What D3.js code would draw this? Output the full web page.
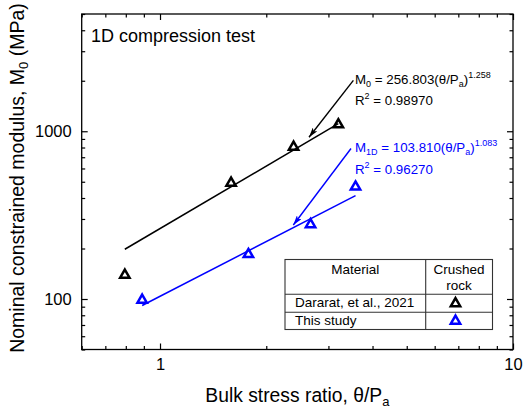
<!DOCTYPE html>
<html>
<head>
<meta charset="utf-8">
<script src="https://cdn.jsdelivr.net/npm/d3@7"></script>
<style>
html,body{margin:0;padding:0;background:#fff;}
svg{display:block;font-family:"Liberation Sans",Arial,sans-serif;}
</style>
</head>
<body>
<svg id="chart" width="524" height="412"></svg>
<script>
// ---- data ----
const dararatX = [0.795, 1.59, 2.39, 3.20];
const dararatY = [139, 492, 806, 1096];
const studyX = [0.89, 1.78, 2.67, 3.58];
const studyY = [98.6, 184.5, 278, 466];
const fitBlackX = [0.795, 3.20];
const fitBlackY = [198, 1109];
const fitBlueX = [0.89, 3.58];
const fitBlueY = [91.5, 413];
const xMajorTicks = [1, 10];
const xMajorLabels = ["1", "10"];
const xMinorTicks = [0.6, 0.7, 0.8, 0.9, 2, 3, 4, 5, 6, 7, 8, 9];
const yMajorTicks = [100, 1000];
const yMajorLabels = ["100", "1000"];
const yMinorTicks = [50, 60, 70, 80, 90, 200, 300, 400, 500, 600, 700, 800, 900, 2000, 3000, 4000, 5000];
const xDomain = [0.6, 10];
const yDomain = [50, 5000];
const blackArrow = {x1: 3.53, y1: 2012, x2: 2.643, y2: 921};
const blueArrow = {x1: 3.476, y1: 789, x2: 2.386, y2: 276};
const legendRows = ["Dararat, et al., 2021", "This study"];

// ---- layout ----
const L = 81.7, R = 513, T = 14, B = 349.5;
const BLUE = "#0000ff";
const svg = d3.select("#chart");
const x = d3.scaleLog().domain(xDomain).range([L, R]);
const y = d3.scaleLog().domain(yDomain).range([B, T]);

svg.append("defs").selectAll("marker").data([["ah-black","#000"],["ah-blue",BLUE]]).join("marker")
  .attr("id", d => d[0]).attr("viewBox", "0 0 10 6").attr("refX", 10).attr("refY", 3)
  .attr("markerWidth", 10).attr("markerHeight", 6).attr("markerUnits", "userSpaceOnUse")
  .attr("orient", "auto")
  .append("path").attr("d", "M0,0 L10,3 L0,6 L2.5,3 Z").attr("fill", d => d[1]);

function drawAxis(gen, transform, ticks, size, labels) {
  const g = svg.append("g").attr("transform", transform)
    .call(gen.tickValues(ticks).tickSizeInner(size).tickSizeOuter(0)
      .tickFormat((d, i) => labels ? labels[i] : ""));
  g.select(".domain").remove();
  g.selectAll(".tick line").attr("stroke", "#000").attr("stroke-width", 1.2);
  g.selectAll(".tick text").attr("font-size", 16.5).attr("fill", "#000")
    .attr("font-family", "'Liberation Sans',Arial,sans-serif");
  return g;
}
// bottom
const gb = drawAxis(d3.axisBottom(x), `translate(0,${B})`, xMajorTicks, -6, xMajorLabels);
gb.selectAll(".tick text").attr("y", 9).attr("dy", "0.71em");
drawAxis(d3.axisBottom(x), `translate(0,${B})`, xMinorTicks, -3.5, null);
// top
drawAxis(d3.axisTop(x), `translate(0,${T})`, xMajorTicks, -6, null);
drawAxis(d3.axisTop(x), `translate(0,${T})`, xMinorTicks, -3.5, null);
// left
const gl = drawAxis(d3.axisLeft(y), `translate(${L},0)`, yMajorTicks, -6, yMajorLabels);
gl.selectAll(".tick text").attr("x", -10);
drawAxis(d3.axisLeft(y), `translate(${L},0)`, yMinorTicks, -3.5, null);
// right
drawAxis(d3.axisRight(y), `translate(${R},0)`, yMajorTicks, -6, null);
drawAxis(d3.axisRight(y), `translate(${R},0)`, yMinorTicks, -3.5, null);

// frame
svg.append("rect").attr("x", L).attr("y", T).attr("width", R - L).attr("height", B - T)
  .attr("fill", "none").attr("stroke", "#000").attr("stroke-width", 1.3);

// fit lines
const line = d3.line().x(d => x(d[0])).y(d => y(d[1]));
svg.append("path").datum(d3.zip(fitBlackX, fitBlackY)).attr("d", line)
  .attr("stroke", "#000").attr("stroke-width", 1.5).attr("fill", "none");
svg.append("path").datum(d3.zip(fitBlueX, fitBlueY)).attr("d", line)
  .attr("stroke", BLUE).attr("stroke-width", 1.5).attr("fill", "none");

// triangles
const tri = d3.symbol().type(d3.symbolTriangle).size(38);
function drawTri(xs, ys, color) {
  svg.append("g").selectAll("path").data(d3.zip(xs, ys)).join("path")
    .attr("transform", d => `translate(${x(d[0])},${y(d[1])})`)
    .attr("d", tri).attr("fill", "none").attr("stroke", color).attr("stroke-width", 2.5);
}
drawTri(dararatX, dararatY, "#000");
drawTri(studyX, studyY, BLUE);

// arrows
function drawArrow(a, color, id) {
  svg.append("line").attr("x1", x(a.x1)).attr("y1", y(a.y1)).attr("x2", x(a.x2)).attr("y2", y(a.y2))
    .attr("stroke", color).attr("stroke-width", 1.4).attr("marker-end", `url(#${id})`);
}
drawArrow(blackArrow, "#000", "ah-black");
drawArrow(blueArrow, BLUE, "ah-blue");

// equation texts
function eq(xp, yp, color, parts) {
  const t = svg.append("text").attr("x", xp).attr("y", yp).attr("fill", color).attr("font-size", 13.3);
  parts.forEach(p => {
    const s = t.append("tspan").text(p[0]);
    if (p[1] === "sub") s.attr("font-size", 9).attr("baseline-shift", "-3");
    if (p[1] === "sup") s.attr("font-size", 9).attr("baseline-shift", "6");
  });
}
eq(355, 84, "#000", [["M"], ["0", "sub"], [" = 256.803(θ/P"], ["a", "sub"], [")"], ["1.258", "sup"]]);
eq(355, 105, "#000", [["R"], ["2", "sup"], [" = 0.98970"]]);
eq(355, 152, BLUE, [["M"], ["1D", "sub"], [" = 103.810(θ/P"], ["a", "sub"], [")"], ["1.083", "sup"]]);
eq(355, 173.5, BLUE, [["R"], ["2", "sup"], [" = 0.96270"]]);

// title inside
svg.append("text").attr("x", 91).attr("y", 42).attr("font-size", 18).text("1D compression test");

// axis titles
const xt = svg.append("text").attr("x", (L + R) / 2).attr("y", 402).attr("text-anchor", "middle").attr("font-size", 19.3);
xt.append("tspan").text("Bulk stress ratio, θ/P");
xt.append("tspan").text("a").attr("font-size", 13).attr("baseline-shift", "-4");
const yt = svg.append("text").attr("transform", `translate(24,178) rotate(-90)`)
  .attr("text-anchor", "middle").attr("font-size", 19.5);
yt.append("tspan").text("Nominal constrained modulus, M");
yt.append("tspan").text("0").attr("font-size", 13).attr("baseline-shift", "-4");
yt.append("tspan").text(" (MPa)");

// legend table
const lg = svg.append("g");
const tx0 = 285, tx1 = 425.7, tx2 = 492.5, ty0 = 259.5, ty1 = 294.3, ty2 = 312.3, ty3 = 329.5;
lg.append("rect").attr("x", tx0).attr("y", ty0).attr("width", tx2 - tx0).attr("height", ty3 - ty0)
  .attr("fill", "#fff").attr("stroke", "#333").attr("stroke-width", 1.1);
[[tx1, ty0, tx1, ty3], [tx0, ty1, tx2, ty1], [tx0, ty2, tx2, ty2]].forEach(s =>
  lg.append("line").attr("x1", s[0]).attr("y1", s[1]).attr("x2", s[2]).attr("y2", s[3])
    .attr("stroke", "#333").attr("stroke-width", 1.1));
lg.append("text").attr("x", (tx0 + tx1) / 2).attr("y", 273.5).attr("text-anchor", "middle").attr("font-size", 13.5).text("Material");
lg.append("text").attr("x", (tx1 + tx2) / 2).attr("y", 273.5).attr("text-anchor", "middle").attr("font-size", 13.5).text("Crushed");
lg.append("text").attr("x", (tx1 + tx2) / 2).attr("y", 290).attr("text-anchor", "middle").attr("font-size", 13.5).text("rock");
lg.selectAll("text.row").data(legendRows).join("text").attr("class", "row")
  .attr("x", 295).attr("y", (d, i) => [307, 324.5][i]).attr("font-size", 13.5).text(d => d);
lg.selectAll("path.sym").data(["#000", BLUE]).join("path").attr("class", "sym")
  .attr("transform", (d, i) => `translate(455.5,${[303.5, 321][i]})`)
  .attr("d", tri).attr("fill", "none").attr("stroke", d => d).attr("stroke-width", 2.5);
</script>
</body>
</html>
